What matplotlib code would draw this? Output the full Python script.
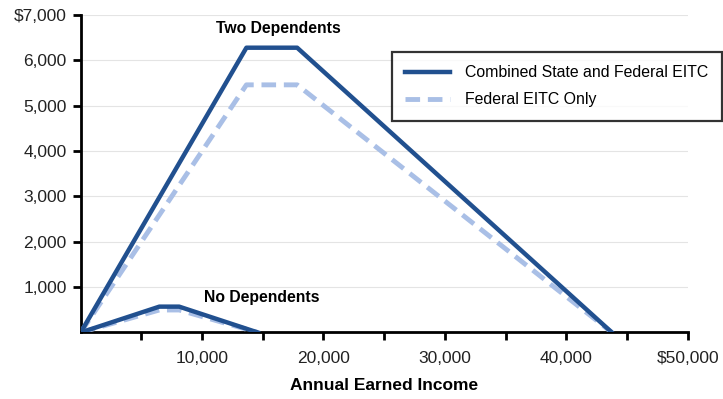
import matplotlib
matplotlib.use("Agg")
import matplotlib.pyplot as plt

plt.rcParams['font.family'] = ['Liberation Sans', 'DejaVu Sans']

# Two dependents
two_income = [0, 13650, 17830, 43756]
two_combined = [0, 6279, 6279, 0]
two_federal = [0, 5460, 5460, 0]
# No dependents
none_income = [0, 6480, 8110, 14590]
none_combined = [0, 570, 570, 0]
none_federal = [0, 496, 496, 0]

yticks = [1000, 2000, 3000, 4000, 5000, 6000, 7000]
ytick_labels = ["1,000", "2,000", "3,000", "4,000", "5,000", "6,000", "$7,000"]
xticks = [10000, 20000, 30000, 40000, 50000]
xtick_labels = ["10,000", "20,000", "30,000", "40,000", "$50,000"]

dark = "#21508f"
light = "#a9bfe6"

fig = plt.figure(figsize=(7.23, 3.99), dpi=100)
ax = fig.add_axes([0.1116, 0.1667, 0.8396, 0.7957])

ax.plot(two_income, two_federal, color=light, lw=3.5, ls=(0, (3, 1.6)), zorder=3)
ax.plot(two_income, two_combined, color=dark, lw=3.2, zorder=4, label="Combined State and Federal EITC")
ax.plot(none_income, none_federal, color=light, lw=3.5, ls=(0, (3, 1.6)), zorder=3, label="Federal EITC Only")
ax.plot(none_income, none_combined, color=dark, lw=3.2, zorder=4)

ax.set_xlim(0, 50000)
ax.set_ylim(0, 7000)
ax.set_yticks(yticks)
ax.set_yticklabels(ytick_labels)
ax.set_xticks(xticks)
ax.set_xticklabels(xtick_labels)
ax.set_xticks(list(range(5000, 50001, 10000)), minor=True)
ax.tick_params(axis='both', which='both', direction='out', width=2, length=6, labelsize=12.5, colors='black', labelcolor='#222222')
ax.tick_params(axis='x', which='major', pad=7)
ax.tick_params(axis='y', which='major', pad=4)
ax.yaxis.grid(True, color='#e4e4e4', lw=0.8)
ax.set_axisbelow(True)
for s in ['top', 'right']:
    ax.spines[s].set_visible(False)
for s in ['left', 'bottom']:
    ax.spines[s].set_linewidth(2)

ax.set_xlabel("Annual Earned Income", fontsize=12.5, fontweight='bold', labelpad=9)

ax.text(16300, 6540, "Two Dependents", fontsize=11.3, fontweight='bold', ha='center', va='bottom')
ax.text(14930, 600, "No Dependents", fontsize=11.3, fontweight='bold', ha='center', va='bottom')

handles, labels = ax.get_legend_handles_labels()
leg = fig.legend(handles, labels, loc='upper left', bbox_to_anchor=(0.542, 0.870), fontsize=11.4,
                 frameon=True, fancybox=False, handlelength=2.8, handletextpad=1.0,
                 borderpad=0.85, labelspacing=0.75, borderaxespad=0)
leg.get_frame().set_edgecolor('black')
leg.get_frame().set_linewidth(1.6)

fig.savefig("out.png", dpi=100)
